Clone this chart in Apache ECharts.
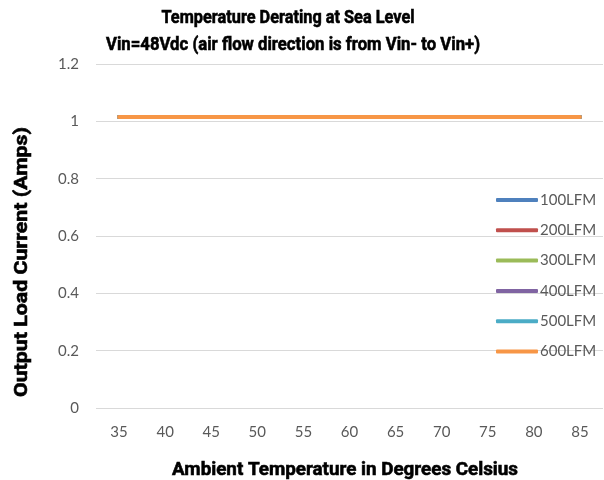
<!DOCTYPE html>
<html>
<head>
<meta charset="utf-8">
<script src="https://cdn.jsdelivr.net/npm/echarts@6/dist/echarts.min.js"></script>
<style>
  html, body { margin: 0; padding: 0; background: #fff; }
  #main { width: 604px; height: 480px; }
</style>
</head>
<body>
<div id="main"></div>
<script>
    // data
    var temps = ['35', '40', '45', '50', '55', '60', '65', '70', '75', '80', '85']
    var lfm100 = [1.015, 1.015, 1.015, 1.015, 1.015, 1.015, 1.015, 1.015, 1.015, 1.015, 1.015]
    var lfm200 = [1.015, 1.015, 1.015, 1.015, 1.015, 1.015, 1.015, 1.015, 1.015, 1.015, 1.015]
    var lfm300 = [1.015, 1.015, 1.015, 1.015, 1.015, 1.015, 1.015, 1.015, 1.015, 1.015, 1.015]
    var lfm400 = [1.015, 1.015, 1.015, 1.015, 1.015, 1.015, 1.015, 1.015, 1.015, 1.015, 1.015]
    var lfm500 = [1.015, 1.015, 1.015, 1.015, 1.015, 1.015, 1.015, 1.015, 1.015, 1.015, 1.015]
    var lfm600 = [1.015, 1.015, 1.015, 1.015, 1.015, 1.015, 1.015, 1.015, 1.015, 1.015, 1.015]
    var names = ['100LFM', '200LFM', '300LFM', '400LFM', '500LFM', '600LFM']
    var colors = ['#4F81BD', '#C0504D', '#9BBB59', '#8064A2', '#4BACC6', '#F79646']
    var values = [lfm100, lfm200, lfm300, lfm400, lfm500, lfm600]

    var boldFont = 'bold 19px Roboto, sans-serif'
    var labelFont = 'Lato, "Open Sans", sans-serif'

    // bold condensed text: squeeze Roboto bold to the width seen in the picture
    var ctx = document.createElement('canvas').getContext('2d')
    function condensed(text, cx, cy, width, rot) {
        ctx.font = boldFont
        var w = ctx.measureText(text).width
        return {
            type: 'text',
            x: cx,
            y: cy,
            rotation: rot || 0,
            scaleX: width / w,
            style: {
                text: text,
                font: boldFont,
                fill: '#000',
                stroke: '#000',
                lineWidth: 0.6,
                align: 'center',
                verticalAlign: 'middle'
            }
        }
    }

    var myChart = echarts.init(document.getElementById('main'))

    var series = names.map(function (n, i) {
        return {
            name: n,
            type: 'line',
            data: values[i],
            symbol: 'none',
            lineStyle: { width: 4, color: colors[i], cap: 'round' },
            itemStyle: { color: colors[i] }
        }
    })

    var option = {
        animation: false,
        color: colors,
        legend: {
            orient: 'vertical',
            left: 491,
            top: 187,
            icon: 'roundRect',
            itemWidth: 42,
            itemHeight: 4,
            itemGap: 14.3,
            data: names,
            textStyle: { fontFamily: labelFont, fontSize: 15, color: '#595959', lineHeight: 16, padding: [0, 0, 0, -3] }
        },
        grid: { left: 96, right: 1, top: 64, bottom: 72, outerBoundsMode: 'none', containLabel: false },
        xAxis: {
            type: 'category',
            data: temps,
            boundaryGap: true,
            axisLine: { show: false },
            axisTick: { show: false },
            axisLabel: { fontFamily: labelFont, fontSize: 15, color: '#595959', margin: 17 }
        },
        yAxis: {
            type: 'value',
            min: 0,
            max: 1.2,
            interval: 0.2,
            axisLine: { show: false },
            axisTick: { show: false },
            splitLine: { lineStyle: { color: '#D9D9D9', width: 1 } },
            axisLabel: { fontFamily: labelFont, fontSize: 15, color: '#595959', margin: 17 }
        },
        graphic: [
            condensed('Temperature Derating at Sea Level', 288, 18, 253),
            condensed('Vin=48Vdc (air flow direction is from Vin- to Vin+)', 293, 45, 374),
            condensed('Ambient Temperature in Degrees Celsius', 345, 470, 346),
            condensed('Output Load Current (Amps)', 22, 262, 270, Math.PI / 2)
        ],
        series: series
    }

    myChart.setOption(option)
</script>
</body>
</html>
